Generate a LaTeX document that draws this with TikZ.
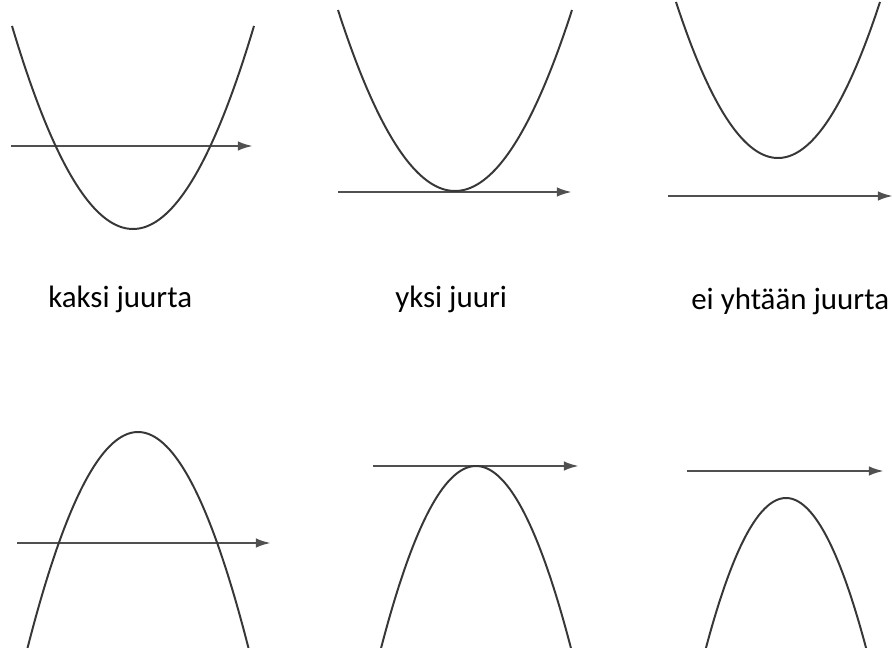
\documentclass[tikz,border=0pt]{standalone}
\usepackage{fontspec}
\setmainfont{Carlito}
\usepackage{tikz}
\usetikzlibrary{arrows.meta}
\definecolor{curvegrey}{RGB}{55, 55, 55}
\definecolor{axisgrey}{RGB}{80, 80, 80}

\begin{document}
\begin{tikzpicture}[
    x=0.025cm, y=-0.025cm,
    every node/.style={font=\fontsize{22}{26}\selectfont, inner sep=0pt},
    curve/.style={draw=curvegrey, line width=1.4pt, smooth},
    axis/.style={draw=axisgrey, line width=1.7pt, -{Latex[length=3.8mm, width=2.4mm]}},
    label/.style={anchor=base west}
]
\useasboundingbox (0, 0) rectangle (892, 648);
\clip (0, 0) rectangle (892, 648);

% Row 1: upward parabolas
\coordinate (a1s) at (11, 146);
\coordinate (a1e) at (253, 146);
\draw[axis] (a1s) -- (a1e);
\draw[curve] plot[domain=12:254, samples=80] (\x, {229 - 1.387*((\x-133)/10)^2});

\coordinate (a2s) at (338, 192);
\coordinate (a2e) at (572, 192);
\draw[axis] (a2s) -- (a2e);
\draw[curve] plot[domain=338:572, samples=80] (\x, {191 - 1.322*((\x-455)/10)^2});

\coordinate (a3s) at (668, 196);
\coordinate (a3e) at (893, 196);
\draw[axis] (a3s) -- (a3e);
\draw[curve] plot[domain=676:880, samples=80] (\x, {158 - 1.5*((\x-778)/10)^2});

% Labels
\node[label] (l1) at (48, 308) {kaksi juurta};
\node[label] (l2) at (395, 308) {yksi juuri};
\node[label] (l3) at (691, 309) {ei yhtään juurta};

% Row 2: downward parabolas
\coordinate (b1s) at (17, 543);
\coordinate (b1e) at (271, 543);
\draw[axis] (b1s) -- (b1e);
\draw[curve] plot[domain=20:256, samples=80] (\x, {432 + 1.77*((\x-138)/10)^2});

\coordinate (b2s) at (373, 466);
\coordinate (b2e) at (579, 466);
\draw[axis] (b2s) -- (b2e);
\draw[curve] plot[domain=375:580, samples=80] (\x, {466 + 2.02*((\x-476)/10)^2});

\coordinate (b3s) at (687, 471);
\coordinate (b3e) at (884, 471);
\draw[axis] (b3s) -- (b3e);
\draw[curve] plot[domain=698:874, samples=80] (\x, {498 + 2.34*((\x-786)/10)^2});

\end{tikzpicture}
\end{document}
